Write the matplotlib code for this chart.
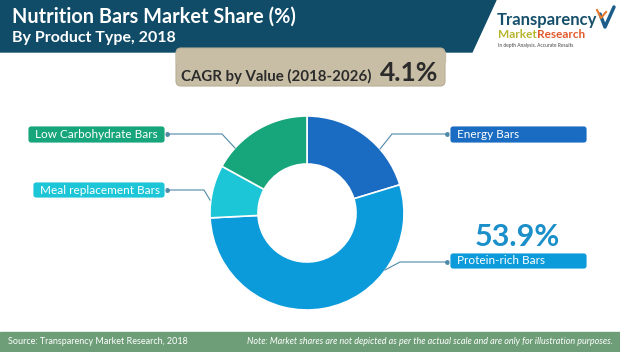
import numpy as np
import matplotlib.pyplot as plt
from matplotlib.patches import Polygon, FancyBboxPatch, Rectangle

plt.rcParams['font.family'] = ['Lato', 'DejaVu Sans']

# data
segments = ["Energy Bars", "Protein-rich Bars", "Meal replacement Bars", "Low Carbohydrate Bars"]
shares = [20.3, 53.9, 8.8, 17.0]
colors = ["#1a6cc2", "#0b9bdb", "#1dc6d6", "#17a57b"]
highlight = "53.9%"
cagr = "4.1%"

W, H = 620, 352
def fy(y):
    # image row -> axes y (y up)
    return H - y

fig = plt.figure(figsize=(W / 100, H / 100), dpi=100)
ax = fig.add_axes([0, 0, 1, 1])

# donut
cx, cy, r = 307, fy(213), 97
ax.pie(shares, colors=colors, startangle=90, counterclock=False,
       center=(cx, cy), radius=r,
       wedgeprops=dict(width=48, edgecolor="white", linewidth=1.2))

ax.set_xlim(0, W)
ax.set_ylim(0, H)
ax.set_aspect("auto")
ax.axis("off")

# header band
ax.add_patch(Polygon([(0, fy(0)), (496, fy(0)), (472, fy(52)), (0, fy(52))],
                     closed=True, color="#104c67", zorder=1))
ax.text(12, fy(17), "Nutrition Bars Market Share (%)", color="white",
        fontsize=14.3, fontweight="bold", va="center", ha="left")
ax.text(12, fy(38), "By Product Type, 2018", color="white",
        fontsize=11.5, fontweight="bold", va="center", ha="left")

# logo
ax.text(497, fy(20), "Transparency", color="#16506b", fontsize=12,
        fontweight="bold", va="center", ha="left")
ax.text(498, fy(35), "Market", color="#b7b52c", fontsize=8.5, fontweight="bold",
        va="center", ha="left")
ax.text(537, fy(35), "Research", color="#e0592b", fontsize=8.5, fontweight="bold",
        va="center", ha="left")
ax.text(498, fy(45), "In depth Analysis. Accurate Results", color="#444444",
        fontsize=3.5, va="center", ha="left")
ax.plot([600, 605, 614], [fy(14), fy(27), fy(7)], color="#1c5d8a", lw=2.5,
        solid_capstyle="round")
ax.plot([597, 601, 606], [fy(10), fy(18), fy(12)], color="#e67a2c", lw=1.5)

# CAGR box
ax.add_patch(FancyBboxPatch((176, fy(86)), 269, 38,
                            boxstyle="round,pad=0,rounding_size=5",
                            facecolor="#c8bda5", edgecolor="#b8ad96",
                            linewidth=0.8, zorder=2))
ax.add_patch(Rectangle((176, fy(62)), 269, 10, color="#c8bda5", zorder=2))
ax.text(181, fy(76), "CAGR by Value (2018-2026)", color="#2b2b2b",
        fontsize=10.8, fontweight="bold", va="center", ha="left", zorder=3)
ax.text(380, fy(73), cagr, color="#2b2b2b", fontsize=19,
        fontweight="bold", va="center", ha="left", zorder=3)

# labels with connectors
def label(x0, ytop, w, h, text, color):
    ax.add_patch(FancyBboxPatch((x0, fy(ytop + h)), w, h,
                                boxstyle="round,pad=0,rounding_size=3",
                                facecolor=color, edgecolor="white",
                                linewidth=0.6, zorder=3))
    ax.text(x0 + 7, fy(ytop + h / 2), text, color="white", fontsize=8.5,
            va="center", ha="left", zorder=4)

label(28, 126, 137, 17, segments[3], colors[3])
label(33, 182, 132, 16, segments[2], colors[2])
label(450, 126, 137, 17, segments[0], colors[0])
label(450, 253, 137, 16, segments[1], colors[1])

line_col = "#4f89a8"
ax.plot([167, 222, 235], [fy(134), fy(134), fy(148)], color=line_col, lw=0.8)
ax.plot([167], [fy(134)], "o", color=line_col, ms=2.5)
ax.plot([167, 204, 210], [fy(190), fy(190), fy(200)], color=line_col, lw=0.8)
ax.plot([167], [fy(190)], "o", color=line_col, ms=2.5)
ax.plot([380, 392, 447], [fy(149), fy(134), fy(134)], color=line_col, lw=0.8)
ax.plot([447], [fy(134)], "o", color=line_col, ms=2.5)
ax.plot([385, 400, 447], [fy(270), fy(262), fy(262)], color=line_col, lw=0.8)
ax.plot([447], [fy(262)], "o", color=line_col, ms=2.5)

ax.text(517, fy(237), highlight, color="#1a8fc9", fontsize=22,
        fontweight="bold", va="center", ha="center")

# footer
ax.add_patch(Rectangle((0, 0), W, fy(332), color="#6e9e78", zorder=1))
ax.text(8, fy(342), "Source: Transparency Market Research, 2018", color="white",
        fontsize=6.5, va="center", ha="left", zorder=2)
ax.text(613, fy(342),
        "Note: Market shares are not depicted as per the actual scale and are only for illustration purposes.",
        color="white", fontsize=6.5, style="italic", va="center", ha="right", zorder=2)

fig.savefig("out.png", dpi=100)
